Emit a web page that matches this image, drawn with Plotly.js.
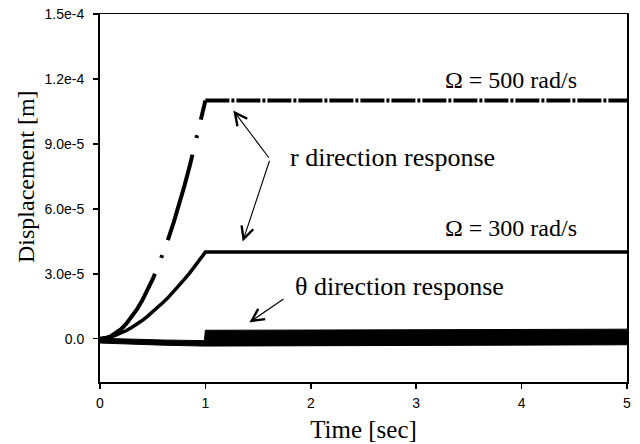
<!DOCTYPE html>
<html>
<head>
<meta charset="utf-8">
<script src="https://cdn.plot.ly/plotly-3.0.1.min.js"></script>
<style>html,body{margin:0;padding:0;background:#fff;}#chart{width:640px;height:444px;}</style>
</head>
<body>
<div id="chart"></div>
<script>
// ---- data ----
const time = [0, 0.05, 0.1, 0.15, 0.2, 0.25, 0.3, 0.35, 0.4, 0.45, 0.5, 0.55, 0.6, 0.65, 0.7, 0.75, 0.8, 0.85, 0.9, 0.95, 1.0, 2.0, 3.0, 4.0, 5.0];
const omega500 = [0, 0.3e-6, 1.1e-6, 2.5e-6, 4.4e-6, 6.9e-6, 9.9e-6, 1.35e-5, 1.76e-5, 2.23e-5, 2.75e-5, 3.33e-5, 3.96e-5, 4.65e-5, 5.39e-5, 6.19e-5, 7.04e-5, 7.95e-5, 8.91e-5, 9.93e-5, 1.1e-4, 1.1e-4, 1.1e-4, 1.1e-4, 1.1e-4];
const omega300 = [0, 0.25e-6, 0.8e-6, 1.6e-6, 2.6e-6, 3.8e-6, 5.2e-6, 6.7e-6, 8.4e-6, 1.03e-5, 1.23e-5, 1.45e-5, 1.68e-5, 1.92e-5, 2.18e-5, 2.45e-5, 2.74e-5, 3.03e-5, 3.35e-5, 3.67e-5, 4.0e-5, 4.0e-5, 4.0e-5, 4.0e-5, 4.0e-5];
// theta-direction response: envelope of the dense oscillation band
const thetaTime  = [0, 0.3, 0.6, 0.99, 1.0, 2.0, 3.0, 4.0, 5.0];
const thetaUpper = [0.2e-6, -0.3e-6, -0.6e-6, -0.9e-6, 3.9e-6, 4.0e-6, 4.1e-6, 4.3e-6, 4.4e-6];
const thetaLower = [-2.0e-6, -2.6e-6, -3.0e-6, -3.4e-6, -3.4e-6, -3.3e-6, -3.1e-6, -3.0e-6, -2.8e-6];
const xTicks = [0, 1, 2, 3, 4, 5];
const xTickText = ['0', '1', '2', '3', '4', '5'];
const yTicks = [0, 3e-5, 6e-5, 9e-5, 1.2e-4, 1.5e-4];
const yTickText = ['0.0', '3.0e-5', '6.0e-5', '9.0e-5', '1.2e-4', '1.5e-4'];

const splitIdx = time.indexOf(1.0);
const bandX = thetaTime.concat(thetaTime.slice().reverse());
const bandY = thetaUpper.concat(thetaLower.slice().reverse());

const traces = [
  {x: bandX, y: bandY, type: 'scatter', mode: 'lines', fill: 'toself',
   fillcolor: '#000', line: {color: '#000', width: 1}, hoverinfo: 'skip'},
  {x: time, y: omega300, type: 'scatter', mode: 'lines',
   line: {color: '#000', width: 3.5}},
  {x: time.slice(0, splitIdx + 1), y: omega500.slice(0, splitIdx + 1), type: 'scatter', mode: 'lines',
   line: {color: '#000', width: 4, dash: '89px,17px,3px,16px'}},
  {x: time.slice(splitIdx), y: omega500.slice(splitIdx), type: 'scatter', mode: 'lines',
   line: {color: '#000', width: 4, dash: '24px,2px,3px,2px'}}
];

const serifFam = 'Liberation Serif, Times New Roman, serif';
const serif = {family: serifFam, size: 24, color: '#000'};
const serifBig = {family: serifFam, size: 26, color: '#000'};
const tickFont = {family: 'Liberation Sans, Arial, sans-serif', size: 14, color: '#000'};
const arrowCommon = {xref: 'x', yref: 'y', axref: 'x', ayref: 'y', text: '', showarrow: true,
  arrowhead: 5, arrowsize: 2.2, arrowwidth: 1.1, arrowcolor: '#000', standoff: 0};

const layout = {
  width: 640, height: 444,
  margin: {l: 100, r: 13, t: 14, b: 62},
  paper_bgcolor: '#fff', plot_bgcolor: '#fff',
  showlegend: false,
  xaxis: {
    range: [0, 5], tickvals: xTicks, ticktext: xTickText,
    showgrid: false, zeroline: false, showline: true, linecolor: '#000', linewidth: 1.5,
    mirror: true, ticks: 'outside', ticklen: 5, tickwidth: 1.5, tickcolor: '#000',
    tickfont: tickFont, ticklabelstandoff: 3,
    title: {text: 'Time [sec]', font: {family: serifFam, size: 25, color: '#000'}, standoff: 10}
  },
  yaxis: {
    range: [-2e-5, 1.5e-4], tickvals: yTicks, ticktext: yTickText,
    showgrid: false, zeroline: false, showline: true, linecolor: '#000', linewidth: 2,
    mirror: true, ticks: 'outside', ticklen: 5, tickwidth: 1.5, tickcolor: '#000',
    tickfont: tickFont, ticklabelstandoff: 6
  },
  annotations: [
    {x: -0.1404, y: 0.557, xref: 'paper', yref: 'paper', text: 'Displacement [m]', textangle: -90,
     showarrow: false, xanchor: 'center', yanchor: 'middle', font: serif},
    {x: 3.9, y: 1.195e-4, xref: 'x', yref: 'y', text: 'Ω = 500 rad/s', showarrow: false, font: serif},
    {x: 3.9, y: 5.12e-5, xref: 'x', yref: 'y', text: 'Ω = 300 rad/s', showarrow: false, font: serif},
    {x: 2.775, y: 8.35e-5, xref: 'x', yref: 'y', text: 'r direction response', showarrow: false, font: serifBig},
    {x: 2.84, y: 2.4e-5, xref: 'x', yref: 'y', text: 'θ direction response', showarrow: false, font: serifBig},
    Object.assign({x: 1.265, y: 1.054e-4, ax: 1.613, ay: 8.29e-5}, arrowCommon),
    Object.assign({x: 1.354, y: 4.49e-5, ax: 1.613, ay: 8.29e-5}, arrowCommon),
    Object.assign({x: 1.417, y: 7.5e-6, ax: 1.755, ay: 1.88e-5}, arrowCommon)
  ]
};

Plotly.newPlot('chart', traces, layout, {displayModeBar: false, staticPlot: true});
</script>
</body>
</html>
